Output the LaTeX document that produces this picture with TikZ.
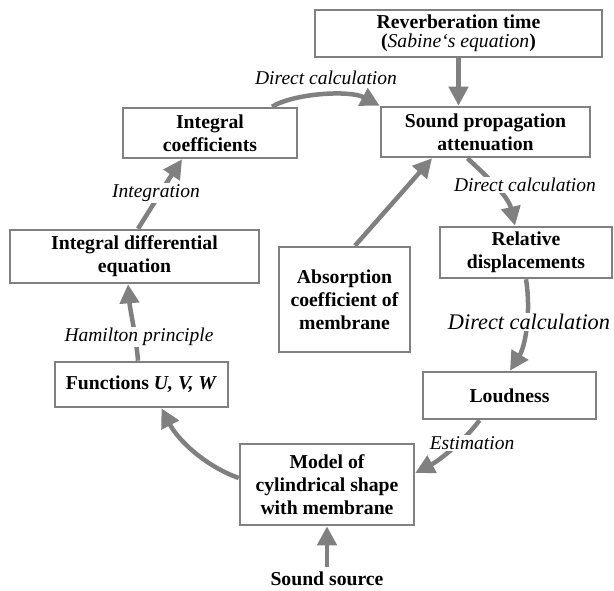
\documentclass[tikz,border=0pt]{standalone}
\usepackage{fontspec}
\setmainfont{Liberation Serif}
\usetikzlibrary{arrows.meta}
\definecolor{lg}{RGB}{128,128,128}
\begin{document}
\begin{tikzpicture}[x=1pt,y=-1pt,
 box/.style={draw=lg, line width=2.6pt, fill=white, inner sep=0pt, align=center,
   font=\fontsize{19.7}{23}\selectfont\bfseries},
 lab/.style={font=\fontsize{19.5}{22}\selectfont\itshape, inner sep=1pt, fill=white},
 arr/.style={draw=lg, line width=4.5pt, -{Triangle[length=19pt,width=19pt]}}]
\useasboundingbox (0,0) rectangle (614,591);

\node[box, minimum width=287pt, minimum height=47pt] (rev) at (458.5,33.5)
  {Reverberation time\\[-4pt]({\mdseries\itshape Sabine‘s equation})};
\node[box, minimum width=209pt, minimum height=50pt] (sp) at (485.5,132)
  {Sound propagation\\attenuation};
\node[box, minimum width=174pt, minimum height=50pt] (ic) at (210,133)
  {Integral\\coefficients};
\node[box, minimum width=249pt, minimum height=53pt] (ide) at (134.5,256.5)
  {Integral differential\\equation};
\node[box, minimum width=131pt, minimum height=105pt] (abs) at (344.5,299.5)
  {Absorption\\coefficient of\\membrane};
\node[box, minimum width=172pt, minimum height=51pt] (rd) at (526,252.5)
  {Relative\\displacements};
\node[box, minimum width=173pt, minimum height=45pt] (fn) at (141.5,384.5)
  {Functions \textit{U, V, W}};
\node[box, minimum width=173pt, minimum height=47pt] (loud) at (509.5,395.5)
  {Loudness};
\node[box, minimum width=174pt, minimum height=81pt] (model) at (327,484.5)
  {Model of\\cylindrical shape\\with membrane};
\node[font=\fontsize{19.7}{23}\selectfont\bfseries, inner sep=5pt] (src) at (327,579) {Sound source};

\draw[arr] (rev.south) -- (rev.south |- sp.north);
\draw[arr] ([xshift=62pt]ic.north) .. controls (295,93) and (350,90) .. (sp.north west);
\draw[arr] ([xshift=-18pt]sp.south) .. controls (482,172) and (508,195) .. ([xshift=-11pt]rd.north);
\draw[arr] ([xshift=10.5pt]abs.north) -- ([xshift=-53.5pt]sp.south);
\draw[arr] (rd.south) .. controls (531,310) and (526,345) .. ([xshift=0.5pt]loud.north);
\draw[arr] ([xshift=-30pt]loud.south) .. controls (465,440) and (440,460) .. ([yshift=11.5pt]model.east);
\draw[arr] (src.north) -- (model.south);
\draw[arr] ([yshift=6.5pt]model.west) .. controls (205,466) and (178,440) .. ([xshift=20pt]fn.south);
\draw[arr] ([xshift=-3.5pt]fn.north) .. controls (136,335) and (130,310) .. ([xshift=-6.5pt]ide.south);
\draw[arr] ([xshift=3.5pt]ide.north) .. controls (150,210) and (165,185) .. ([xshift=-28pt]ic.south);

\node[lab] (l1) at (326,78) {Direct calculation};
\node[lab] (l2) at (525,185) {Direct calculation};
\node[lab, font=\fontsize{22.3}{24}\selectfont\itshape] (l3) at (529,322) {Direct calculation};
\node[lab] (l4) at (156,193) {Integration};
\node[lab] (l5) at (139,337) {Hamilton principle};
\node[lab] (l6) at (472,443) {Estimation};
\end{tikzpicture}
\end{document}
